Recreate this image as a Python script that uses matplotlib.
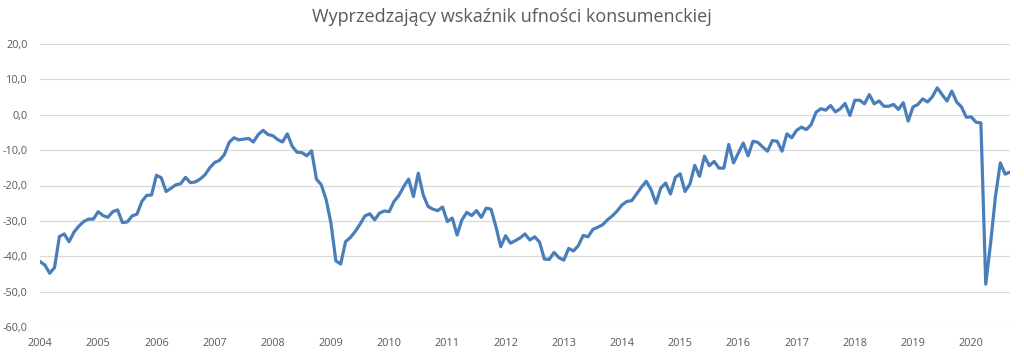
import numpy as np
import matplotlib
matplotlib.use("Agg")
import matplotlib.pyplot as plt
from matplotlib.ticker import FuncFormatter

# monthly values, 2004-01 .. 2020-09
y2004 = [-41.5, -42.5, -44.8, -43.2, -34.4, -33.7, -35.9, -33.2, -31.5, -30.2, -29.5, -29.5]
y2005 = [-27.4, -28.5, -29.0, -27.4, -26.9, -30.5, -30.3, -28.6, -28.1, -24.5, -22.8, -22.7]
y2006 = [-17.1, -17.8, -21.7, -20.8, -19.8, -19.5, -17.7, -19.2, -19.0, -18.2, -17.0, -15.0]
y2007 = [-13.5, -12.9, -11.3, -7.8, -6.5, -7.1, -6.9, -6.7, -7.7, -5.6, -4.4, -5.6]
y2008 = [-5.9, -7.0, -7.7, -5.4, -8.9, -10.6, -10.7, -11.6, -10.2, -18.2, -19.8, -24.0]
y2009 = [-30.7, -41.3, -42.2, -35.9, -34.7, -33.0, -30.9, -28.6, -28.0, -29.7, -27.8, -27.2]
y2010 = [-27.4, -24.5, -22.8, -20.3, -18.2, -23.1, -16.5, -22.6, -25.9, -26.7, -27.1, -26.1]
y2011 = [-30.2, -29.2, -34.0, -29.7, -27.6, -28.5, -27.1, -29.0, -26.4, -26.7, -31.6, -37.3]
y2012 = [-34.2, -36.3, -35.6, -34.8, -33.7, -35.4, -34.5, -36.0, -40.8, -40.9, -38.9, -40.4]
y2013 = [-41.1, -37.8, -38.5, -37.0, -34.1, -34.5, -32.4, -31.8, -31.1, -29.7, -28.6, -27.2]
y2014 = [-25.5, -24.5, -24.3, -22.4, -20.5, -18.8, -21.2, -25.0, -20.7, -19.3, -22.4, -17.7]
y2015 = [-16.7, -21.7, -19.6, -14.3, -17.4, -11.7, -14.4, -13.2, -15.1, -15.1, -8.4, -13.6]
y2016 = [-10.8, -8.0, -11.6, -7.5, -7.8, -9.1, -10.3, -7.3, -7.5, -10.3, -5.4, -6.5]
y2017 = [-4.4, -3.5, -4.2, -2.8, 0.7, 1.7, 1.3, 2.6, 0.8, 1.7, 3.2, -0.2]
y2018 = [4.1, 4.1, 3.1, 5.7, 3.1, 3.9, 2.4, 2.4, 2.9, 1.5, 3.4, -1.8]
y2019 = [2.2, 2.9, 4.5, 3.6, 5.1, 7.6, 5.7, 3.9, 6.7, 3.6, 2.2, -0.7]
y2020 = [-0.6, -2.1, -2.3, -47.9, -36.3, -23.1, -13.6, -16.8, -16.2]

values = (y2004 + y2005 + y2006 + y2007 + y2008 + y2009 + y2010 + y2011 + y2012
          + y2013 + y2014 + y2015 + y2016 + y2017 + y2018 + y2019 + y2020)
years = [str(y) for y in range(2004, 2021)]

plt.rcParams['font.family'] = ['Open Sans', 'DejaVu Sans']

fig = plt.figure(figsize=(10.24, 3.52), dpi=100)
ax = fig.add_axes([40 / 1024, 1 - 327 / 352, 970 / 1024, 283 / 352])

x = np.arange(len(values))
ax.plot(x, values, color='#4a7ebb', linewidth=2.3, solid_joinstyle='round')

ax.set_xlim(0, 200)
ax.set_ylim(-60, 20)
ax.set_yticks(np.arange(-60, 21, 10))
ax.yaxis.set_major_formatter(FuncFormatter(lambda v, p: f"{v:.1f}".replace('.', ',')))
ax.set_xticks(np.arange(0, len(values), 12))
ax.set_xticklabels(years)

ax.grid(axis='y', color='#d9d9d9', linewidth=0.9)
ax.set_axisbelow(True)
for s in ax.spines.values():
    s.set_visible(False)
ax.tick_params(length=0, colors='#595959', labelsize=7.8)
ax.tick_params(axis='y', pad=9)
ax.tick_params(axis='x', pad=8)

fig.text(0.5, 1 - 17 / 352, "Wyprzedzający wskaźnik ufności konsumenckiej",
         ha='center', va='center', fontsize=13, color='#595959')

fig.savefig("out.png", dpi=100)
